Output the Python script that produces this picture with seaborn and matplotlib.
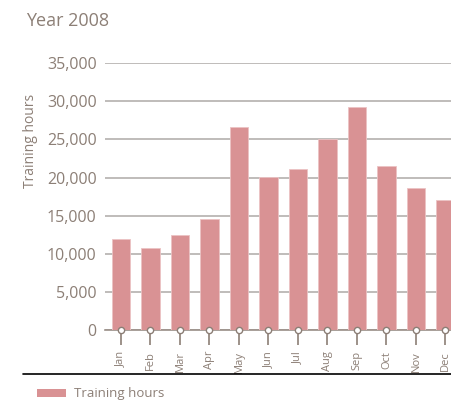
import matplotlib
matplotlib.use("Agg")
import matplotlib.pyplot as plt
import seaborn as sns
import pandas as pd
from matplotlib.patches import Patch
from matplotlib.lines import Line2D

months = ["Jan", "Feb", "Mar", "Apr", "May", "Jun",
          "Jul", "Aug", "Sep", "Oct", "Nov", "Dec"]
hours = [12000, 10700, 12500, 14600, 26600, 20100,
         21100, 25000, 29300, 21500, 18600, 17100]
y_ticks = [0, 5000, 10000, 15000, 20000, 25000, 30000, 35000]

bar_color = "#d99294"
text_color = "#8c7f76"
grid_color = "#b4b0ae"

df = pd.DataFrame({"month": months, "hours": hours})

sns.set_style("white")
plt.rcParams["font.family"] = ["Open Sans", "DejaVu Sans"]

fig = plt.figure(figsize=(4.51, 4.07), dpi=100)
ax = fig.add_axes([0.233, 0.189, 0.767, 0.656])

sns.barplot(data=df, x="month", y="hours", color=bar_color, saturation=1,
            width=0.63, edgecolor="#ebc3c4", linewidth=0.6, ax=ax, zorder=3)

ax.set_ylim(0, 35000)
ax.set_xlim(-0.54, 11.19)
ax.set_yticks(y_ticks)
ax.set_yticklabels([f"{v:,}" for v in y_ticks], color=text_color, fontsize=11.5)
ax.yaxis.grid(True, color=grid_color, linewidth=1.2, zorder=0)
ax.set_axisbelow(True)

for s in ["top", "right", "left"]:
    ax.spines[s].set_visible(False)
ax.spines["bottom"].set_color("#9a8f88")
ax.spines["bottom"].set_linewidth(1.2)

ax.tick_params(axis="y", length=0, pad=6)
ax.tick_params(axis="x", bottom=True, direction="out", length=11, width=1.2,
               color="#8c7f76", pad=4)
ax.set_xticks(range(len(months)))
ax.set_xticklabels(months, rotation=90, fontsize=8, color=text_color)
ax.set_xlabel("")
ax.set_ylabel("")

# small circle at the base of each tick
ax.plot(range(len(months)), [0] * len(months), "o", ms=4.5, mfc="white",
        mec="#8c7f76", mew=1.0, clip_on=False, zorder=5)

fig.text(0.058, 0.948, "Year 2008", fontsize=13, color=text_color,
         fontweight="medium", ha="left", va="center")
fig.text(0.068, 0.653, "Training hours", rotation=90, fontsize=10,
         color=text_color, ha="center", va="center")

# legend separator line and legend
fig.add_artist(Line2D([0.051, 1.0], [0.081, 0.081], color="black",
                      linewidth=1.2))
handle = Patch(facecolor=bar_color, edgecolor="none", label="Training hours")
fig.legend(handles=[handle], loc="center left", bbox_to_anchor=(0.055, 0.032),
           frameon=False, fontsize=9.5, labelcolor=text_color,
           handlelength=2.2, handleheight=0.6, handletextpad=0.6)

fig.savefig("out.png", dpi=100)
